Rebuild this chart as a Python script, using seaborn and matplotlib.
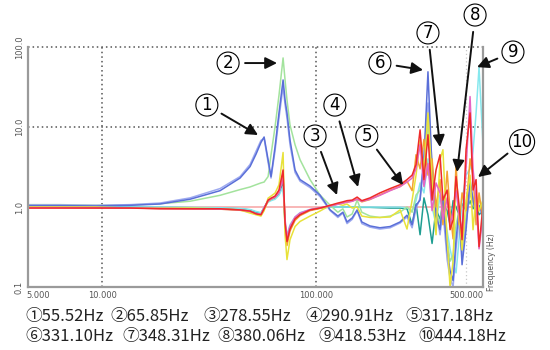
import matplotlib
matplotlib.use("Agg")
import matplotlib.pyplot as plt
from matplotlib.ticker import NullLocator
import pandas as pd
import seaborn as sns

# Frequency grid (Hz) shared by the measured response curves
freq = [4.5, 6.35, 9.35, 13.5, 18.6, 25.7, 35.5, 44.0, 49.0, 52.3,
        55.1, 57.0, 59.5, 61.4, 64.1, 66.9, 69.9, 71.4, 72.9, 75.3,
        79.5, 83.9, 93.4, 104, 116, 126, 133, 139, 147, 155,
        163, 178, 198, 221, 246, 265, 280, 292, 305, 318,
        332, 347, 362, 378, 390, 408, 421, 435, 449, 464,
        479, 500, 522, 539, 557, 575, 600]

blue = [1.04, 1.04, 1.03, 1.05, 1.09, 1.25, 1.6, 2.3, 3.2, 4.6,
        6.4, 7.5, 3.9, 2.4, 5.6, 15.0, 38.7, 21.8, 15.0, 6.9,
        2.9, 2.2, 1.83, 1.41, 0.92, 0.77, 0.86, 0.65, 0.73, 0.92,
        0.65, 0.58, 0.55, 0.57, 0.65, 0.79, 0.6, 1.05, 1.22, 3.9,
        49.0, 2.9, 0.79, 0.52, 1.22, 0.29, 0.16, 0.12, 0.39, 0.92,
        0.19, 0.52, 2.2, 1.22, 0.79, 1.05, 0.79]

periwinkle = [1.06, 1.06, 1.05, 1.07, 1.12, 1.3, 1.7, 2.4, 3.4, 5.0,
              6.8, 7.2, 3.6, 2.3, 5.0, 13.0, 32.0, 19.0, 13.0, 6.0,
              2.7, 2.1, 1.75, 1.35, 0.9, 0.74, 0.84, 0.62, 0.7, 0.9,
              0.62, 0.56, 0.53, 0.55, 0.63, 0.75, 0.55, 0.95, 1.3, 4.5,
              20.0, 3.5, 0.9, 0.45, 0.9, 0.22, 0.13, 0.1, 0.3, 0.7,
              0.25, 0.6, 1.8, 1.3, 0.8, 1.0, 0.75]

lightgreen = [1.07, 1.07, 1.05, 1.06, 1.1, 1.18, 1.4, 1.65, 1.78, 1.9,
              2.0, 2.05, 2.4, 4.5, 10.0, 25.0, 73.0, 38.7, 21.8, 10.6,
              6.0, 3.9, 2.2, 1.41, 1.05, 0.86, 0.95, 0.75, 0.82, 1.22,
              0.86, 0.77, 0.74, 0.77, 0.86, 1.0, 0.86, 1.41, 1.63, 3.3,
              10.6, 1.9, 0.86, 0.63, 1.41, 0.39, 0.21, 0.25, 0.6, 0.9,
              0.29, 0.74, 1.49, 1.12, 0.9, 1.22, 0.9]

yellow = [1.0, 1.0, 1.0, 0.97, 0.97, 0.97, 0.95, 0.92, 0.84, 0.80,
          0.77, 0.9, 1.29, 1.37, 1.49, 1.9, 4.8, 0.45, 0.22, 0.39,
          0.57, 0.66, 0.77, 0.89, 1.05, 1.09, 1.05, 1.09, 0.97, 1.0,
          0.77, 0.74, 0.74, 0.75, 0.92, 0.53, 1.22, 2.5, 6.9, 2.9,
          15.0, 2.2, 0.45, 3.9, 5.2, 0.39, 0.1, 0.21, 2.3, 0.79,
          0.29, 1.22, 2.5, 0.52, 1.41, 0.89, 1.22]

orange = [0.99, 0.99, 0.98, 0.97, 0.96, 0.95, 0.94, 0.91, 0.87, 0.82,
          0.79, 0.93, 1.18, 1.25, 1.32, 1.55, 2.6, 0.55, 0.33, 0.5,
          0.68, 0.78, 0.9, 0.96, 1.03, 1.09, 1.12, 1.15, 1.18, 1.26,
          1.16, 1.24, 1.42, 1.62, 1.8, 2.1, 1.6, 4.5, 3.0, 7.0,
          2.5, 4.0, 1.0, 2.2, 0.6, 2.8, 0.9, 0.4, 3.5, 0.6,
          1.5, 0.9, 4.0, 2.5, 0.6, 1.5, 0.7]

red = [0.97, 0.97, 0.97, 0.97, 0.95, 0.95, 0.95, 0.92, 0.89, 0.82,
       0.80, 0.95, 1.22, 1.29, 1.37, 1.63, 2.9, 0.63, 0.37, 0.53,
       0.71, 0.8, 0.92, 0.97, 1.05, 1.12, 1.16, 1.2, 1.22, 1.33,
       1.2, 1.3, 1.5, 1.7, 1.9, 2.2, 2.5, 3.4, 9.2, 2.2,
       8.0, 1.22, 2.9, 4.5, 1.22, 1.63, 0.52, 0.69, 2.4, 1.05,
       0.39, 5.2, 15.0, 1.63, 2.2, 0.32, 1.05]

magenta = [0.98, 0.98, 0.98, 0.97, 0.96, 0.95, 0.94, 0.92, 0.88, 0.83,
           0.81, 0.98, 1.2, 1.26, 1.33, 1.5, 2.3, 0.7, 0.42, 0.58,
           0.75, 0.84, 0.93, 0.98, 1.03, 1.08, 1.12, 1.15, 1.18, 1.25,
           1.18, 1.25, 1.4, 1.6, 1.8, 2.05, 2.3, 3.0, 6.0, 1.8,
           3.5, 0.9, 2.0, 1.5, 0.7, 1.3, 0.6, 0.9, 1.6, 0.8,
           0.5, 3.0, 24.0, 3.0, 1.2, 0.3, 0.8]

teal = [1.0, 1.0, 1.0, 1.0, 0.99, 0.98, 0.97, 0.95, 0.92, 0.86,
        0.84, 0.98, 1.2, 1.25, 1.3, 1.45, 2.0, 0.6, 0.4, 0.55,
        0.72, 0.82, 0.92, 0.97, 1.0, 1.0, 1.0, 1.0, 1.0, 1.0,
        0.99, 0.99, 0.98, 0.97, 0.97, 0.95, 0.6, 1.1, 0.45, 1.3,
        0.8, 0.35, 0.95, 0.7, 1.1, 0.9, 0.6, 1.2, 1.0, 0.8,
        1.1, 0.9, 1.2, 0.95, 1.1, 0.8, 0.9]

cyan = [1.0, 1.0, 1.0, 1.0, 1.0, 0.99, 0.98, 0.96, 0.93, 0.88,
        0.85, 0.98, 1.15, 1.2, 1.25, 1.4, 1.8, 0.65, 0.45, 0.6,
        0.75, 0.85, 0.93, 0.98, 1.0, 1.0, 1.0, 1.0, 1.0, 1.0,
        1.0, 1.0, 1.0, 1.0, 1.0, 0.98, 0.9, 1.2, 2.0, 1.5,
        4.0, 1.0, 0.6, 1.4, 0.9, 0.5, 0.3, 0.2, 0.15, 0.4,
        1.2, 2.5, 3.0, 5.0, 15.0, 56.0, 6.0]

# Unit reference level
ref_freq = [4.5, 600]
ref_level = [1.0, 1.0]

# Mode markers: label, arrow target (Hz, magnitude), label position (Hz, magnitude)
mode_ids = ["1", "2", "3", "4", "5", "6", "7", "8", "9", "10"]
mode_tip_f = [53.4, 65.5, 124.8, 156.5, 254, 315, 378, 454, 563, 569]
mode_tip_v = [7.94, 63.0, 1.41, 1.78, 1.88, 51.6, 5.62, 2.74, 56.0, 2.37]
mode_lab_f = [30.8, 38.7, 98.6, 122, 172, 198, 332, 551, 828, 913]
mode_lab_v = [18.8, 63.0, 7.72, 18.8, 7.72, 63.0, 150, 251, 86.6, 6.49]

mode_freqs = ["①55.52Hz", "②65.85Hz", "③278.55Hz", "④290.91Hz", "⑤317.18Hz",
              "⑥331.10Hz", "⑦348.31Hz", "⑧380.06Hz", "⑨418.53Hz", "⑩444.18Hz"]

x_ticks = [5, 10, 100, 500]
x_tick_labels = ["5.000", "10.000", "100.000", "500.000"]
y_ticks = [0.1, 1, 10, 100]
y_tick_labels = ["0.1", "1.0", "10.0", "100.0"]

curves = {
    "reference": (ref_freq, ref_level),
    "teal": (freq, teal),
    "cyan": (freq, cyan),
    "lightgreen": (freq, lightgreen),
    "periwinkle": (freq, periwinkle),
    "blue": (freq, blue),
    "orange": (freq, orange),
    "yellow": (freq, yellow),
    "magenta": (freq, magenta),
    "red": (freq, red),
}
palette = {
    "reference": "#f7a3a3",
    "teal": "#1f9e92",
    "cyan": "#86e8ee",
    "lightgreen": "#a3e39d",
    "periwinkle": "#9eaaf0",
    "blue": "#5a6fd8",
    "orange": "#f4a133",
    "yellow": "#e8e23a",
    "magenta": "#e565c4",
    "red": "#ee2a2a",
}

frames = []
for name, (f, v) in curves.items():
    frames.append(pd.DataFrame({"freq": f, "mag": v, "curve": name}))
df = pd.concat(frames, ignore_index=True)

sns.set_style("white")
plt.rcParams["font.family"] = ["DejaVu Sans", "Noto Sans CJK KR"]

fig = plt.figure(figsize=(5.5, 3.5), dpi=100)
ax = fig.add_axes([28 / 550, 63 / 350, 455 / 550, 240 / 350])

sns.lineplot(data=df, x="freq", y="mag", hue="curve", hue_order=list(curves),
             palette=palette, estimator=None, sort=True, linewidth=1.1,
             legend=False, ax=ax)

ax.set_xscale("log")
ax.set_yscale("log")
ax.set_xlim(4.5, 600)
ax.set_ylim(0.1, 100)
ax.xaxis.set_minor_locator(NullLocator())
ax.yaxis.set_minor_locator(NullLocator())
ax.set_xticks(x_ticks)
ax.set_xticklabels(x_tick_labels)
ax.set_yticks(y_ticks)
ax.set_yticklabels(y_tick_labels, rotation=90, va="center")
ax.tick_params(length=0, labelsize=6, labelcolor="#555555", pad=3)
ax.set_xlabel("")
ax.set_ylabel("")

# dotted decade grid
dots = (0, (1, 2))
for gx in (10, 100):
    ax.axvline(gx, color="#555555", lw=1.1, ls=dots, zorder=0.5)
for gy in (10, 100):
    ax.axhline(gy, color="#555555", lw=1.1, ls=dots, zorder=0.5, clip_on=False)
ax.axvline(500, color="#c8c8c8", lw=0.9, ls=dots, zorder=0.5)

for side in ("left", "bottom", "right"):
    ax.spines[side].set_color("#9a9a9a")
    ax.spines[side].set_linewidth(1.6)
ax.spines["top"].set_visible(False)

fig.text(492 / 550, 1 - 262 / 350, "Frequency (Hz)", rotation=90,
         fontsize=5.5, color="#555555", ha="center", va="center")

# circled mode numbers with arrows
for mid, tf, tv, lf, lv in zip(mode_ids, mode_tip_f, mode_tip_v, mode_lab_f, mode_lab_v):
    ax.annotate(mid, xy=(tf, tv), xytext=(lf, lv), textcoords="data",
                ha="center", va="center", fontsize=12, color="black",
                bbox=dict(boxstyle="circle,pad=0.12", fc="white", ec="black", lw=0.8),
                arrowprops=dict(arrowstyle="-|>,head_length=0.7,head_width=0.35",
                                mutation_scale=10, color="#111111", lw=1.4,
                                shrinkA=4, shrinkB=0),
                annotation_clip=False, zorder=10)

# list of mode frequencies below the chart
row_x = [[25, 110, 203, 305, 405], [25, 122, 217, 318, 418]]
row_y = [316, 336]
for r in range(2):
    for c in range(5):
        fig.text(row_x[r][c] / 550, 1 - row_y[r] / 350, mode_freqs[r * 5 + c],
                 fontsize=12, ha="left", va="center", color="#222222",
                 family=["Noto Sans CJK KR", "DejaVu Sans"])

fig.savefig("out.png", dpi=100, facecolor="white")
